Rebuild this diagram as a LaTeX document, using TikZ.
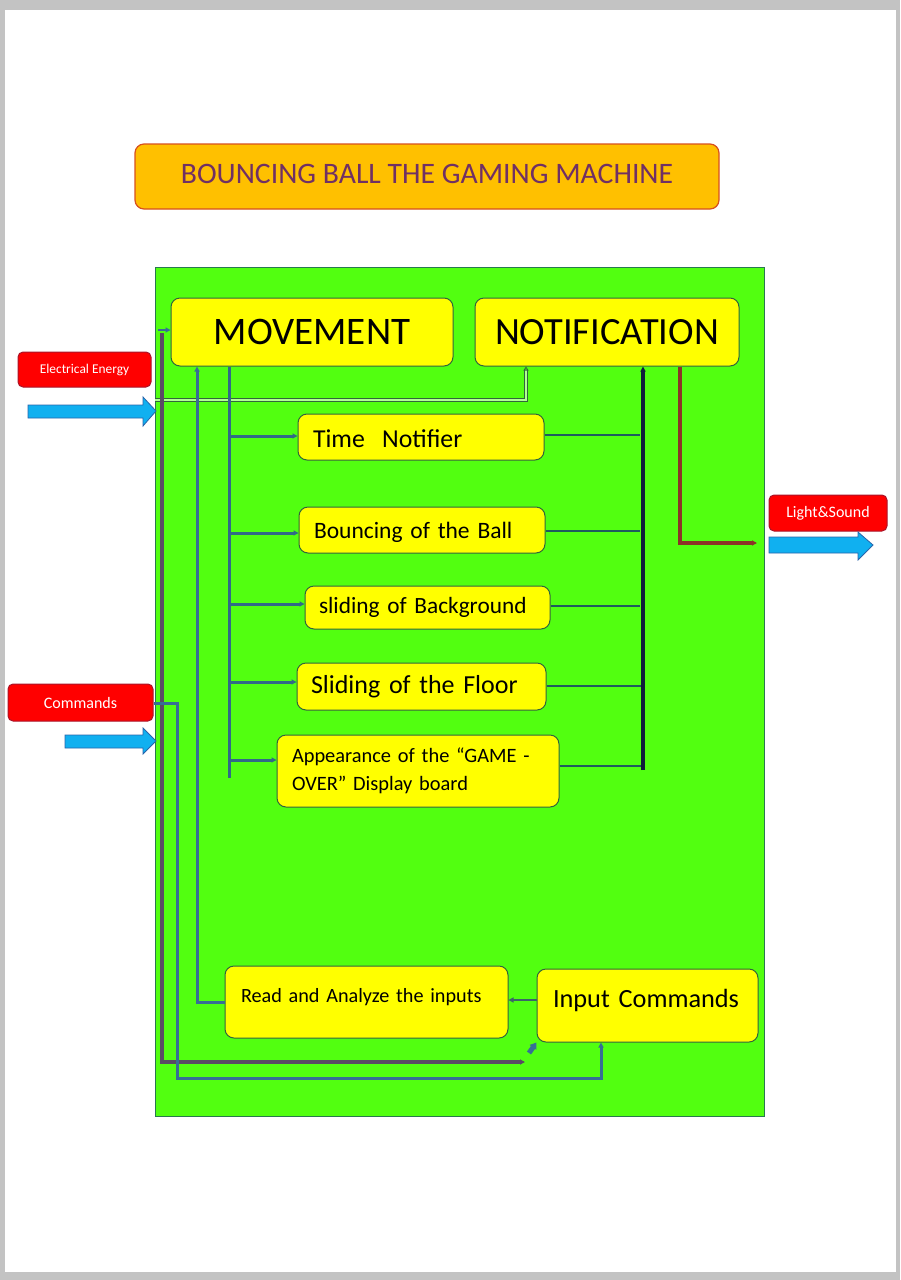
\documentclass[tikz,border=0pt]{standalone}
\usepackage{fontspec}
\setmainfont{Carlito}
\usetikzlibrary{arrows.meta,calc}
\definecolor{pagegray}{RGB}{195,195,195}
\definecolor{bggreen}{RGB}{82,255,16}
\definecolor{greenedge}{RGB}{40,120,80}
\definecolor{boxyellow}{RGB}{255,255,0}
\definecolor{boxedge}{RGB}{50,100,60}
\definecolor{titlefill}{RGB}{255,192,0}
\definecolor{titleedge}{RGB}{215,80,30}
\definecolor{titletext}{RGB}{112,48,100}
\definecolor{redfill}{RGB}{255,0,0}
\definecolor{rededge}{RGB}{170,20,40}
\definecolor{arrowfill}{RGB}{16,176,240}
\definecolor{arrowedge}{RGB}{40,100,170}
\definecolor{steel}{RGB}{55,110,150}
\definecolor{tealdark}{RGB}{30,90,95}
\definecolor{navy}{RGB}{15,30,60}
\definecolor{purpgray}{RGB}{90,75,100}
\definecolor{brownline}{RGB}{140,50,40}
\newcommand{\shiftup}[2]{\raisebox{#1}[\height][\depth]{#2}}
\begin{document}
\begin{tikzpicture}[x=1pt,y=-1pt,
  ybox/.style={draw=boxedge, line width=1pt, fill=boxyellow, rounded corners=9pt, inner ysep=0pt, text=black},
  redbox/.style={draw=rededge, line width=1pt, fill=redfill, rounded corners=5pt, inner sep=0pt, text=white},
  blockarrow/.style={draw=arrowedge, line width=0.8pt, fill=arrowfill},
  tip/.style={-{Triangle[length=5pt,width=5pt]}},
  steelline/.style={draw=steel, line width=3pt},
  busline/.style={draw=steel!75!tealdark, line width=3pt},
  rightline/.style={draw=tealdark, line width=2.5pt},
  navyline/.style={draw=navy, line width=3.5pt},
  purpline/.style={draw=purpgray, line width=3.5pt},
  brownstyle/.style={draw=brownline, line width=3.5pt},
  dbl/.style={draw=boxedge, line width=0.8pt, double=bggreen!45!white, double distance=1.6pt}
]
\useasboundingbox (0,0) rectangle (900,1280);
% page
\fill[pagegray] (0,0) rectangle (900,1280);
\fill[white] (5,10) rectangle (896,1272);
% green panel
\filldraw[fill=bggreen, draw=greenedge, line width=1pt] (155,267) rectangle (764,1116);

% title
\node[draw=titleedge, line width=1.2pt, fill=titlefill, rounded corners=9pt,
  minimum width=584pt, minimum height=65pt, inner sep=0pt, text=titletext,
  font=\fontsize{29.7}{32}\selectfont] (title) at (427,176.5) {\shiftup{3pt}{BOUNCING BALL THE GAMING MACHINE}};

% main boxes
\node[ybox, minimum width=282pt, minimum height=68pt, font=\fontsize{39}{41}\selectfont] (mov) at (312,332) {MOVEMENT};
\node[ybox, minimum width=264pt, minimum height=68pt, font=\fontsize{38.5}{40}\selectfont] (notif) at (607,332) {NOTIFICATION};

\node[ybox, minimum width=246pt, minimum height=46pt, inner xsep=15pt, text width=216pt, align=left,
  font=\fontsize{25.8}{28}\selectfont] (time) at (421,437) {\shiftup{-2pt}{Time~ Notifier}};
\node[ybox, minimum width=246pt, minimum height=46pt, inner xsep=15pt, text width=216pt, align=left,
  font=\fontsize{23.5}{27}\selectfont] (bounce) at (422,530) {\shiftup{-2pt}{Bouncing of the Ball}};
\node[ybox, minimum width=245pt, minimum height=43pt, inner xsep=14pt, text width=217pt, align=left,
  font=\fontsize{23.3}{27}\selectfont] (slidebg) at (427.5,607.5) {sliding of Background};
\node[ybox, minimum width=249pt, minimum height=47pt, inner xsep=14pt, text width=221pt, align=left,
  font=\fontsize{26}{29}\selectfont] (floor) at (421.5,686.5) {Sliding of the Floor};
\node[ybox, minimum width=282pt, minimum height=72pt, inner xsep=15pt, text width=252pt, align=left,
  font=\fontsize{20.4}{28}\selectfont] (appear) at (418,771) {Appearance of the “GAME -\\OVER” Display board};
\node[ybox, minimum width=283pt, minimum height=72pt, inner xsep=16pt, text width=251pt, align=left,
  font=\fontsize{20.2}{24}\selectfont] (read) at (366.5,1002) {\shiftup{5pt}{Read and Analyze the inputs}};
\node[ybox, minimum width=221pt, minimum height=73pt, inner xsep=16pt, text width=189pt, align=left,
  font=\fontsize{26.3}{29}\selectfont] (input) at (647.5,1005.5) {\shiftup{5pt}{Input Commands}};

% red labels
\node[redbox, minimum width=133pt, minimum height=35pt, font=\fontsize{13.4}{15}\selectfont] (elec) at (84.5,369.5) {Electrical Energy};
\node[redbox, minimum width=145pt, minimum height=37pt, font=\fontsize{16}{18}\selectfont] (cmd) at (80.5,702.5) {Commands};
\node[redbox, minimum width=118pt, minimum height=36pt, font=\fontsize{16}{18}\selectfont] (light) at (828,513) {Light\&Sound};

% block arrows
\path[blockarrow] (28,405) -- (143,405) -- (143,397) -- (156,411) -- (143,426) -- (143,418) -- (28,418) -- cycle;
\path[blockarrow] (65,735) -- (143,735) -- (143,728) -- (156,741) -- (143,754) -- (143,748) -- (65,748) -- cycle;
\path[blockarrow] (769,537) -- (858,537) -- (858,532) -- (873,545) -- (858,560) -- (858,553) -- (769,553) -- cycle;

% coordinates
\coordinate (busx) at (229,0);
\coordinate (rbus) at (643,0);
\coordinate (brx) at (680,0);

% electrical energy double line to NOTIFICATION
\draw[dbl, -{Triangle[length=4pt,width=5pt,open]}] (155,400) -- (526,400) -- (notif.south -| 526,0);

% purple-gray line
\draw[purpline, tip] (162,333) -- (162,1062) -- (525,1062);
\draw[steelline, line width=2.5pt, tip] (158,330) -- (mov.west |- 0,330);
\draw[draw=steel, line width=5pt, -{Triangle[length=6pt,width=8pt]}] (529,1053) -- (input.south west);

% commands line
\draw[steelline, tip] (cmd.east |- 0,703) -- (177,703) -- (177,1078) -- (601,1078) -- (input.south -| 601,0);

% read -> movement
\draw[steelline, tip] (read.west) -- (197,1002) -- (mov.south -| 197,0);

% bus from MOVEMENT
\draw[busline] (mov.south -| busx) -- (229,778);
\draw[busline, tip] (229,436) -- (time.west |- 0,436);
\draw[busline, tip] (229,533) -- (bounce.west |- 0,533);
\draw[busline, tip] (229,604) -- (slidebg.west |- 0,604);
\draw[busline, tip] (229,682) -- (floor.west |- 0,682);
\draw[busline, tip] (229,760) -- (appear.west |- 0,760);

% right side lines to NOTIFICATION
\draw[rightline] (time.east |- 0,435) -- (640,435);
\draw[rightline] (bounce.east |- 0,531) -- (640,531);
\draw[rightline] (slidebg.east |- 0,606) -- (640,606);
\draw[rightline] (floor.east |- 0,686) -- (641,686);
\draw[rightline] (appear.east |- 0,766) -- (641,766);
\draw[navyline, tip] (643,770) -- (notif.south -| rbus);

% notification -> light & sound
\draw[brownstyle, tip] (notif.south -| brx) -- (680,543) -- (757,543);

% input -> read
\draw[rightline, draw=tealdark!70!gray, tip] (input.west |- 0,1000) -- (read.east |- 0,1000);
\end{tikzpicture}
\end{document}
